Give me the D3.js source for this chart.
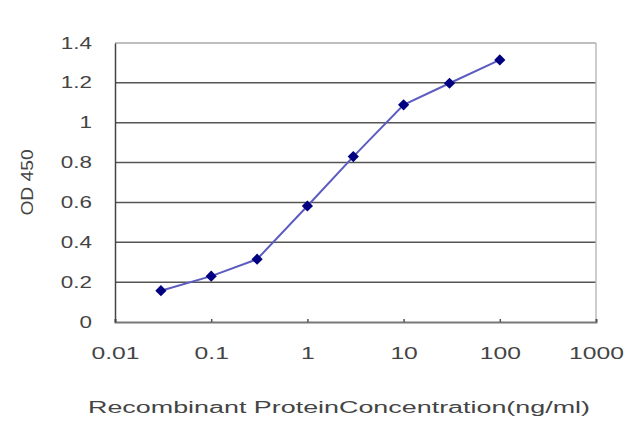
<!DOCTYPE html>
<html>
<head>
<meta charset="utf-8">
<script src="https://cdn.jsdelivr.net/npm/d3@7"></script>
<style>
  body { margin: 0; background: #fff; }
  text { font-family: "Liberation Sans", Arial, sans-serif; fill: #444; }
</style>
</head>
<body>
<div id="chart"></div>
<script>
// concentration (ng/ml) and OD 450 readings
var conc = [0.03, 0.1, 0.3, 1, 3, 10, 30, 100];
var od = [0.157, 0.23, 0.315, 0.582, 0.83, 1.09, 1.198, 1.315];
var xTicks = [0.01, 0.1, 1, 10, 100, 1000];
var yTicks = [0, 0.2, 0.4, 0.6, 0.8, 1, 1.2, 1.4];

var width = 640, height = 427;
var plotLeft = 115, plotRight = 596, plotTop = 43, plotBottom = 322;

var svg = d3.select("#chart").append("svg")
    .attr("width", width)
    .attr("height", height);

var x = d3.scaleLog().domain([0.01, 1000]).range([plotLeft, plotRight]);
var y = d3.scaleLinear().domain([0, 1.4]).range([plotBottom, plotTop]);

// stretch text sideways like the blurry original
function widen(sel, k) {
  sel.each(function() {
    var w = this.getComputedTextLength();
    d3.select(this).attr("textLength", w * k).attr("lengthAdjust", "spacingAndGlyphs");
  });
}

// horizontal gridlines
svg.selectAll("line.grid")
  .data(yTicks.filter(function(d) { return d > 0 && d < 1.4; }))
  .enter().append("line")
    .attr("class", "grid")
    .attr("x1", plotLeft).attr("x2", plotRight)
    .attr("y1", function(d) { return y(d); })
    .attr("y2", function(d) { return y(d); })
    .attr("stroke", "#555")
    .attr("stroke-width", 1.5);

// frame: top and right light
svg.append("line").attr("x1", plotLeft).attr("x2", plotRight).attr("y1", plotTop).attr("y2", plotTop)
    .attr("stroke", "#aaa").attr("stroke-width", 1.5);
svg.append("line").attr("x1", plotRight).attr("x2", plotRight).attr("y1", plotTop).attr("y2", plotBottom)
    .attr("stroke", "#bbb").attr("stroke-width", 1.5);

var xAxis = svg.append("g")
    .attr("transform", "translate(0," + plotBottom + ")")
    .call(d3.axisBottom(x).tickValues(xTicks).tickSize(-3).tickPadding(25)
      .tickFormat(function(d) { return d3.format("")(d); }));
xAxis.select(".domain").attr("stroke", "#777").attr("stroke-width", 2);
xAxis.selectAll(".tick line").attr("stroke", "#555").attr("stroke-width", 1.5);
xAxis.selectAll("text").attr("font-size", 17).attr("fill", "#444").call(widen, 1.45);

var yAxis = svg.append("g")
    .attr("transform", "translate(" + plotLeft + ",0)")
    .call(d3.axisLeft(y).tickValues(yTicks).tickSize(0).tickPadding(23)
      .tickFormat(function(d) { return d3.format("")(d); }));
yAxis.select(".domain").attr("stroke", "#444").attr("stroke-width", 1.5);
yAxis.selectAll("text").attr("font-size", 16).attr("fill", "#444").call(widen, 1.4);

// y label
svg.append("text")
    .attr("transform", "translate(33," + ((plotTop + plotBottom) / 2) + ") rotate(-90)")
    .attr("text-anchor", "middle")
    .attr("font-size", 16)
    .attr("fill", "#444")
    .text("OD 450")
    .call(widen, 1.2);

// x label
svg.append("text")
    .attr("x", 339).attr("y", 413)
    .attr("text-anchor", "middle")
    .attr("font-size", 16)
    .attr("fill", "#444")
    .text("Recombinant ProteinConcentration(ng/ml)")
    .attr("textLength", 502)
    .attr("lengthAdjust", "spacingAndGlyphs");

var pts = conc.map(function(c, i) { return [c, od[i]]; });

svg.append("path")
    .datum(pts)
    .attr("fill", "none")
    .attr("stroke", "#5c5cc0")
    .attr("stroke-width", 2)
    .attr("d", d3.line()
      .x(function(d) { return x(d[0]); })
      .y(function(d) { return y(d[1]); }));

svg.selectAll("path.pt")
  .data(pts)
  .enter().append("path")
    .attr("class", "pt")
    .attr("transform", function(d) { return "translate(" + x(d[0]) + "," + y(d[1]) + ")"; })
    .attr("d", d3.symbol().type(d3.symbolDiamond2).size(80))
    .attr("fill", "#000080");
</script>
</body>
</html>
